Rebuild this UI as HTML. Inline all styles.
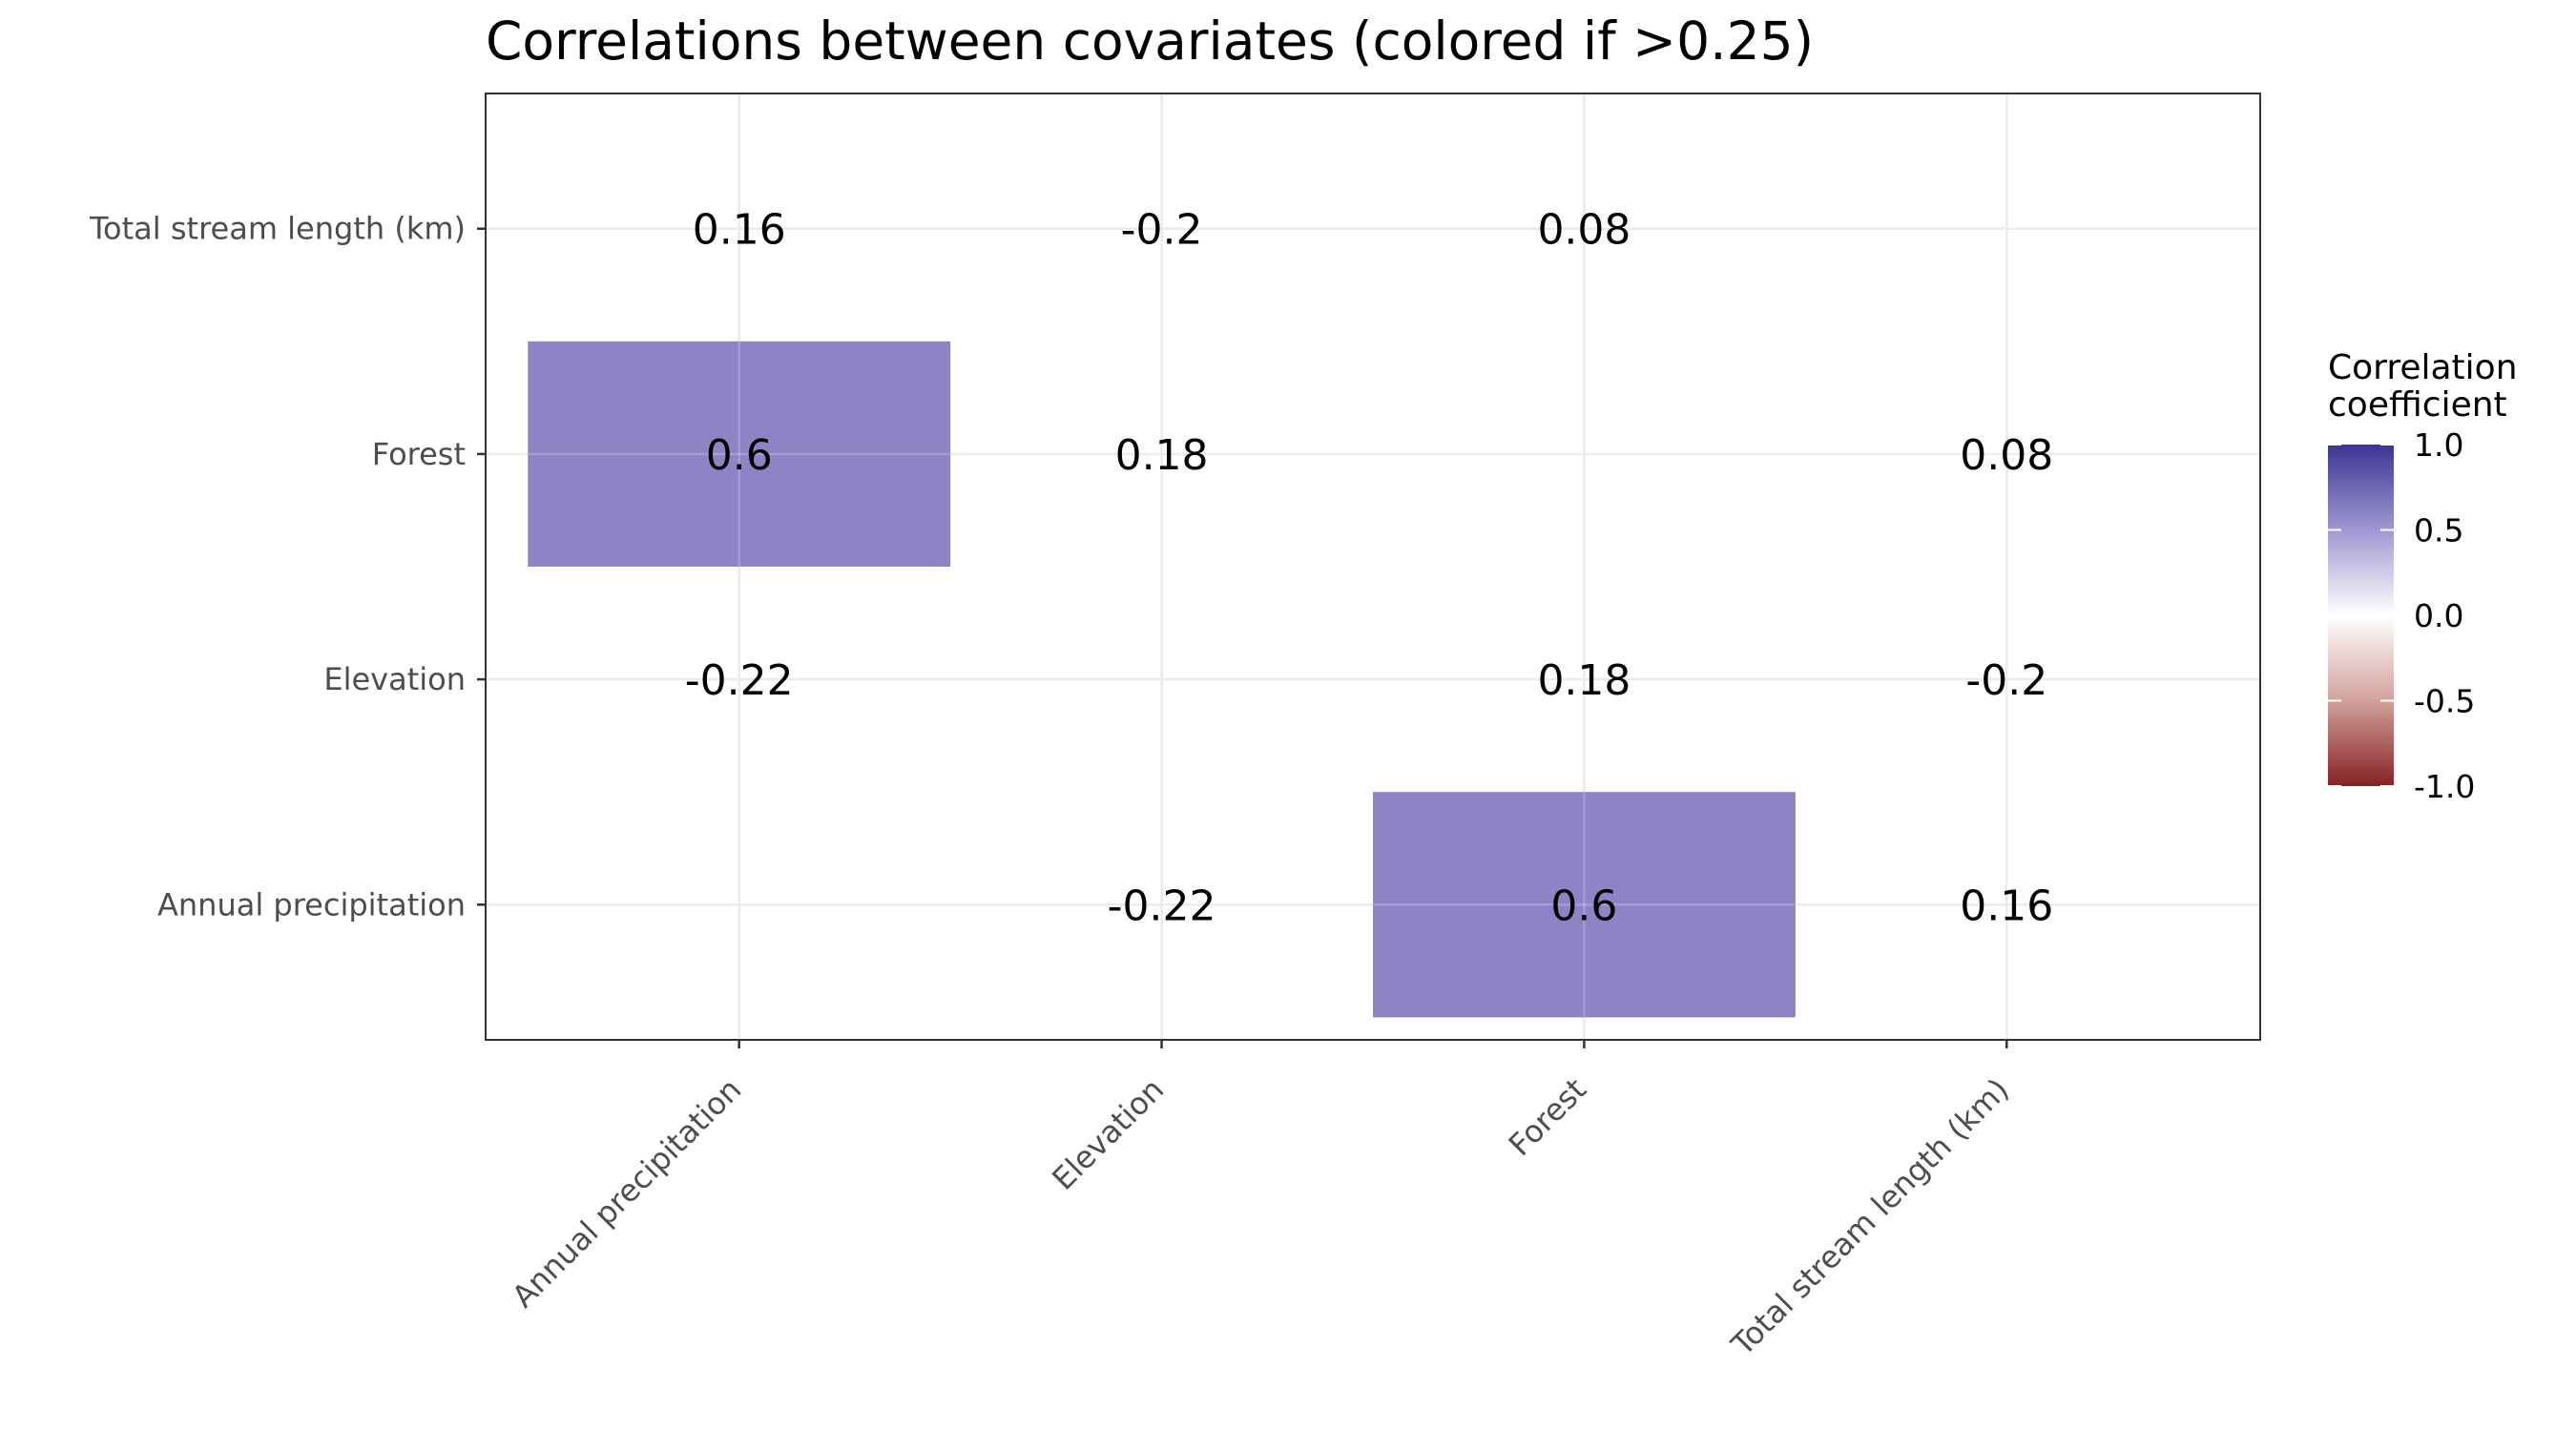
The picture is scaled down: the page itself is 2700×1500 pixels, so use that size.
<!DOCTYPE html>
<html><head><meta charset="utf-8"><style>
html,body{margin:0;padding:0;background:#fff;}
svg{display:block;font-family:"DejaVu Sans","Liberation Sans",sans-serif;}
</style></head><body>
<svg id="chart" width="2700" height="1500" viewBox="0 0 2700 1500" xmlns="http://www.w3.org/2000/svg">
<defs>
<linearGradient id="cgrad" x1="0" y1="0" x2="0" y2="1">
<stop offset="0" stop-color="#3b3591"/>
<stop offset="0.25" stop-color="#a098d2"/>
<stop offset="0.5" stop-color="#ffffff"/>
<stop offset="0.75" stop-color="#d2a19b"/>
<stop offset="1" stop-color="#862224"/>
</linearGradient>
</defs>
<text x="509" y="62" font-size="55" fill="#000">Correlations between covariates (colored if &gt;0.25)</text>
<rect x="509" y="98" width="1860" height="992" fill="#fff"/>
<g id="grid"></g>
<g id="tiles"></g>
<g id="labels"></g>
<rect x="509" y="98" width="1860" height="992" fill="none" stroke="#333" stroke-width="2"/>
<g id="axes"></g>
<g>
<text x="2440" y="397" font-size="36" fill="#000">Correlation</text>
<text x="2440" y="436" font-size="36" fill="#000">coefficient</text>
<rect x="2440" y="466" width="69" height="358" fill="url(#cgrad)"/>
<g id="legendticks"></g>
</g>
</svg>
<script>
const categories = ["Annual precipitation","Elevation","Forest","Total stream length (km)"];
const cellX = ["Annual precipitation","Elevation","Forest","Annual precipitation","Elevation","Total stream length (km)","Annual precipitation","Forest","Total stream length (km)","Elevation","Forest","Total stream length (km)"];
const cellY = ["Total stream length (km)","Total stream length (km)","Total stream length (km)","Forest","Forest","Forest","Elevation","Elevation","Elevation","Annual precipitation","Annual precipitation","Annual precipitation"];
const cellValues = [0.16,-0.2,0.08,0.6,0.18,0.08,-0.22,0.18,-0.2,-0.22,0.6,0.16];
const legendTicks = [1.0,0.5,0.0,-0.5,-1.0];
const legendTickLabels = ["1.0","0.5","0.0","-0.5","-1.0"];
const threshold = 0.25;

const NS="http://www.w3.org/2000/svg";
const PX=509,PY=98,PW=1860,PH=992,n=categories.length;
const stepX=PW/(n-1+1.2), stepY=PH/(n-1+1.2);
function xPos(c){return PX+(0.6+categories.indexOf(c))*stepX;}
function yPos(c){return PY+PH-(0.6+categories.indexOf(c))*stepY;}
const LB={y:466,h:358};
function legY(v){return LB.y+(1-v)/2*LB.h;}
function mix(a,b,t){return a.map((v,i)=>Math.round(v+(b[i]-v)*t));}
function colorFor(v){
  const stops=[[-1,[134,34,36]],[-0.5,[210,161,155]],[0,[255,255,255]],[0.5,[160,152,210]],[1,[59,53,145]]];
  for(let i=0;i<stops.length-1;i++){const [a,ca]=stops[i],[b,cb]=stops[i+1];
    if(v>=a&&v<=b){const c=mix(ca,cb,(v-a)/(b-a));return `rgb(${c[0]},${c[1]},${c[2]})`;}}
  return "#fff";
}
function mk(tag,attrs,parent,text){const e=document.createElementNS(NS,tag);for(const k in attrs)e.setAttribute(k,attrs[k]);if(text!==undefined)e.textContent=text;parent.appendChild(e);return e;}
const grid=document.getElementById('grid'),tiles=document.getElementById('tiles'),labels=document.getElementById('labels'),axes=document.getElementById('axes'),lt=document.getElementById('legendticks');
categories.forEach(c=>{
  const gx=mk('line',{x1:xPos(c),x2:xPos(c),y1:PY,y2:PY+PH,stroke:'#ebebeb','stroke-width':2.5},grid);
  
  
  const gy=mk('line',{x1:PX,x2:PX+PW,y1:yPos(c),y2:yPos(c),stroke:'#ebebeb','stroke-width':2.5},grid);
  
  
  const tx=mk('line',{x1:xPos(c),x2:xPos(c),y1:PY+PH,y2:PY+PH+9,stroke:'#333','stroke-width':2.5},axes);
  
  
  const ty=mk('line',{x1:PX-9,x2:PX,y1:yPos(c),y2:yPos(c),stroke:'#333','stroke-width':2.5},axes);
  
  
  const xl=mk('text',{x:0,y:0,'font-size':32,fill:'#4d4d4d','text-anchor':'end',transform:`translate(${xPos(c)+4},${PY+PH+54}) rotate(-45)`},axes,c);
  
  
  const yl=mk('text',{x:PX-21,y:yPos(c)+11,'font-size':32,fill:'#4d4d4d','text-anchor':'end'},axes,c);
  
  
});
cellValues.forEach((v,i)=>{
  const cx=xPos(cellX[i]),cy=yPos(cellY[i]);
  if(Math.abs(v)>threshold){
    const r=mk('rect',{x:cx-stepX/2,y:cy-stepY/2,width:stepX,height:stepY,fill:colorFor(v)},tiles);
    
    
    const g1=mk('line',{x1:cx,x2:cx,y1:cy-stepY/2,y2:cy+stepY/2,stroke:'#ffffff','stroke-opacity':0.2,'stroke-width':2.5},tiles);
    
    
    const g2=mk('line',{x1:cx-stepX/2,x2:cx+stepX/2,y1:cy,y2:cy,stroke:'#ffffff','stroke-opacity':0.2,'stroke-width':2.5},tiles);
    
    
  }
  const t=mk('text',{x:cx,y:cy+16,'font-size':44,fill:'#000','text-anchor':'middle'},labels,String(v));
  
  
});
legendTicks.forEach((v,i)=>{
  const y=legY(v);
  const a=mk('line',{x1:2440,x2:2454,y1:y,y2:y,stroke:'#fff','stroke-width':2},lt);
  
  
  const b=mk('line',{x1:2495,x2:2509,y1:y,y2:y,stroke:'#fff','stroke-width':2},lt);
  
  
  const t=mk('text',{x:2530,y:y+12,'font-size':33,fill:'#000'},lt,legendTickLabels[i]);
  
  
});
</script>
</body></html>
